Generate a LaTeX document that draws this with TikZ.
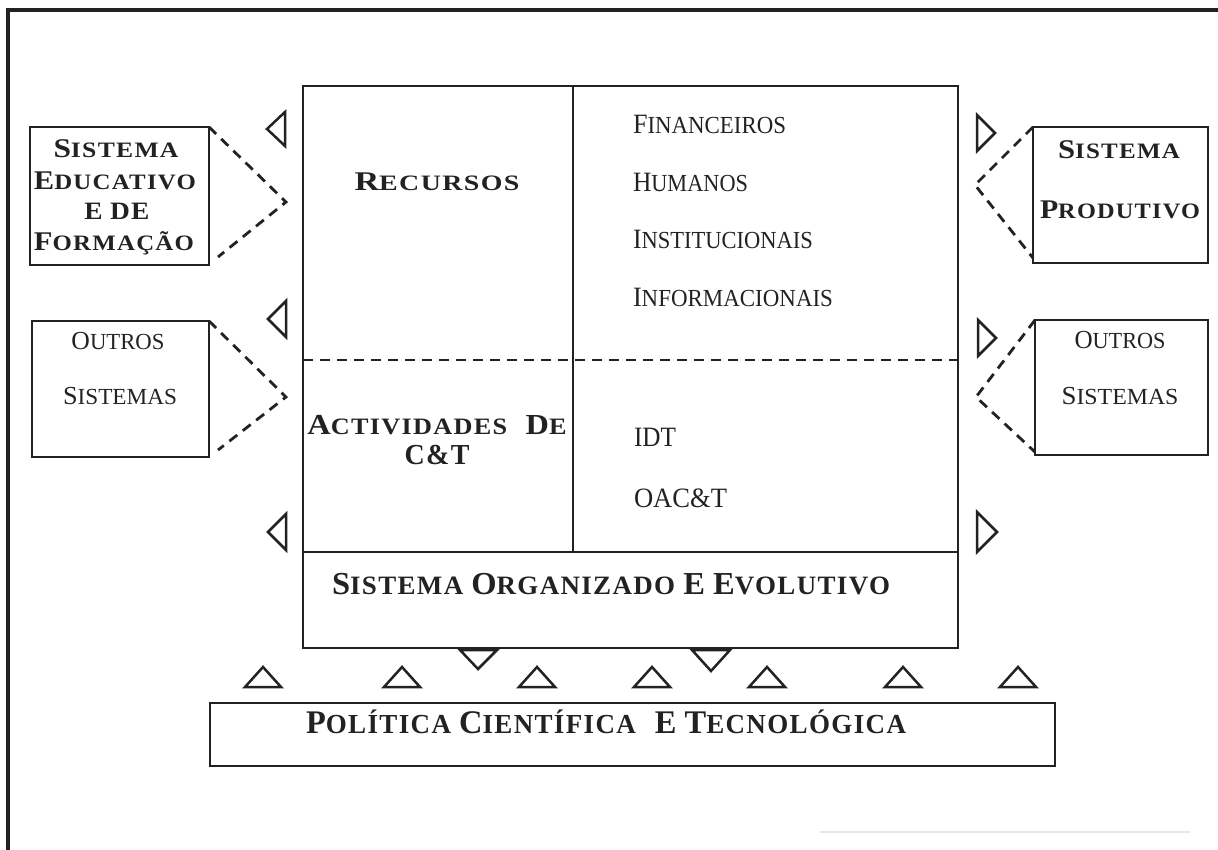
\documentclass[tikz,border=0pt]{standalone}
\usepackage{fontspec}
\usepackage{graphicx}
\setmainfont{Liberation Serif}
\newfontfamily\blsfam{Liberation Serif}[LetterSpace=5]
\definecolor{ink}{HTML}{222222}
\newcommand\bsz{20}\newcommand\ssz{16}
\newcommand\Bf[2]{\renewcommand\bsz{#1}\renewcommand\ssz{#2}\blsfam\bfseries\fontsize{#2pt}{#2pt}\selectfont}
\newcommand\Rf[2]{\renewcommand\bsz{#1}\renewcommand\ssz{#2}\rmfamily\mdseries\fontsize{#2pt}{#2pt}\selectfont}
\newcommand\W[2]{{\fontsize{\bsz pt}{\bsz pt}\selectfont #1}#2}
\newcommand\fw[2]{\resizebox{#1pt}{\height}{#2}}
\tikzset{
  ln/.style={draw=ink, line width=2.6pt},
  box/.style={draw=ink, line width=2.6pt, inner sep=0pt, outer sep=0pt},
  dsh/.style={draw=ink, line width=2.8pt, dash pattern=on 10pt off 7pt},
  tri/.style={draw=ink, line width=2.5pt, line join=miter},
  txt/.style={inner sep=0pt, outer sep=0pt, text=ink},
}
\begin{document}
\begin{tikzpicture}[x=1pt,y=-1pt]
\useasboundingbox (0,0) rectangle (1218,850);
% outer frame
\draw[ink, line width=3.2pt] (8,850) -- (8,10) -- (1218,10);
\draw[gray!18, line width=1.5pt] (820,832) -- (1190,832);

% main box
\node[box, minimum width=655pt, minimum height=562pt] (main) at (630.5,367) {};
\draw[ln] (573,86) -- (573,552);
\draw[ln] (main.west |- 0,552) -- (main.east |- 0,552);
\draw[dsh] (main.west |- 0,360) -- (main.east |- 0,360);

% side boxes
\node[box, minimum width=179pt, minimum height=138pt] (edu) at (119.5,196) {};
\node[box, minimum width=177pt, minimum height=136pt] (outL) at (120.5,389) {};
\node[box, minimum width=175pt, minimum height=136pt] (prod) at (1120.5,195) {};
\node[box, minimum width=173pt, minimum height=135pt] (outR) at (1121.5,387.5) {};
\node[box, minimum width=845pt, minimum height=63pt] (pol) at (632.5,734.5) {};

% dashed connectors
\coordinate (eduA) at (286,202); \coordinate (eduB) at (218,257);
\coordinate (olA) at (286,397);  \coordinate (olB) at (218,450);
\coordinate (prA) at (975,185);  \coordinate (prB) at (1033,258);
\coordinate (orA) at (976,397);  \coordinate (orB) at (1035,452);
\draw[dsh] (edu.north east) -- (eduA) -- (eduB);
\draw[dsh] (outL.north east) -- (olA) -- (olB);
\draw[dsh] (prod.north west) -- (prA) -- (prB);
\draw[dsh] (outR.north west) -- (orA) -- (orB);

% side triangles
\draw[tri] (267,129) -- (285,112) -- (285,146) -- cycle;
\draw[tri] (268,319) -- (286,301) -- (286,337) -- cycle;
\draw[tri] (268,532) -- (286,514) -- (286,550) -- cycle;
\draw[tri] (995,133) -- (977,115) -- (977,151) -- cycle;
\draw[tri] (996,338) -- (978,320) -- (978,356) -- cycle;
\draw[tri] (997,532) -- (977,512) -- (977,552) -- cycle;
% down triangles
\draw[tri] (460,650) -- (497,650) -- (478,669) -- cycle;
\draw[tri] (692,650) -- (730,650) -- (711,671) -- cycle;
% up triangles
\foreach \cx in {263,402,537,652,767,903,1018}
  \draw[tri] (\cx-18,687) -- (\cx,667) -- (\cx+18,687) -- cycle;

% texts: main box
\node[txt, anchor=base] (trec) at (437,191) {\fw{165}{\Bf{27}{22}\W{R}{ECURSOS}}};
\node[txt, anchor=base west] (tfin) at (633,134) {\fw{153}{\Rf{28}{24.5}\W{F}{INANCEIROS}}};
\node[txt, anchor=base west] (thum) at (633,192) {\fw{115}{\Rf{28}{24.5}\W{H}{UMANOS}}};
\node[txt, anchor=base west] (tins) at (633,249) {\fw{180}{\Rf{28}{24.5}\W{I}{NSTITUCIONAIS}}};
\node[txt, anchor=base west] (tinf) at (633,306) {\fw{200}{\Rf{28}{24.5}\W{I}{NFORMACIONAIS}}};
\node[txt, anchor=base] (tact) at (437,434) {\fw{259}{\Bf{29}{23.5}\W{A}{CTIVIDADES}\hspace{0.4em} \W{D}{E}}};
\node[txt, anchor=base] (tct) at (437,464) {\fw{65}{\Bf{29}{23.5}\W{C\&T}{}}};
\node[txt, anchor=base west] (tidt) at (634,446) {\fw{42}{\Rf{28}{28}IDT}};
\node[txt, anchor=base west] (toac) at (634,507) {\fw{93}{\Rf{28}{28}OAC\&T}};
\node[txt, anchor=base west] (tsoe) at (332,594) {\fw{558}{\Bf{32}{26.5}\W{S}{ISTEMA} \W{O}{RGANIZADO} \W{E}{} \W{E}{VOLUTIVO}}};
\node[txt, anchor=base west] (tpol) at (306,733) {\fw{600}{\Bf{33}{27.5}\W{P}{OLÍTICA} \W{C}{IENTÍFICA}\hspace{0.4em} \W{E}{} \W{T}{ECNOLÓGICA}}};

% texts: side boxes
\node[txt, anchor=base] (te1) at (116,158) {\fw{125}{\Bf{27}{22}\W{S}{ISTEMA}}};
\node[txt, anchor=base] (te2) at (115,190) {\fw{162}{\Bf{27}{22}\W{E}{DUCATIVO}}};
\node[txt, anchor=base] (te3) at (117,220) {\fw{65}{\Bf{25}{22}\W{E}{} \W{DE}{}}};
\node[txt, anchor=base] (te4) at (114,251) {\fw{160}{\Bf{27}{22}\W{F}{ORMAÇÃO}}};
\node[txt, anchor=base] (tol1) at (118,349) {\fw{93}{\Rf{26}{23}\W{O}{UTROS}}};
\node[txt, anchor=base] (tol2) at (120,404) {\fw{114}{\Rf{26}{23}\W{S}{ISTEMAS}}};
\node[txt, anchor=base] (tp1) at (1119,159) {\fw{122}{\Bf{27}{22}\W{S}{ISTEMA}}};
\node[txt, anchor=base] (tp2) at (1120,219) {\fw{160}{\Bf{27}{22}\W{P}{RODUTIVO}}};
\node[txt, anchor=base] (tor1) at (1120,348) {\fw{91}{\Rf{26}{23}\W{O}{UTROS}}};
\node[txt, anchor=base] (tor2) at (1120,404) {\fw{117}{\Rf{26}{23}\W{S}{ISTEMAS}}};
\end{tikzpicture}
\end{document}
